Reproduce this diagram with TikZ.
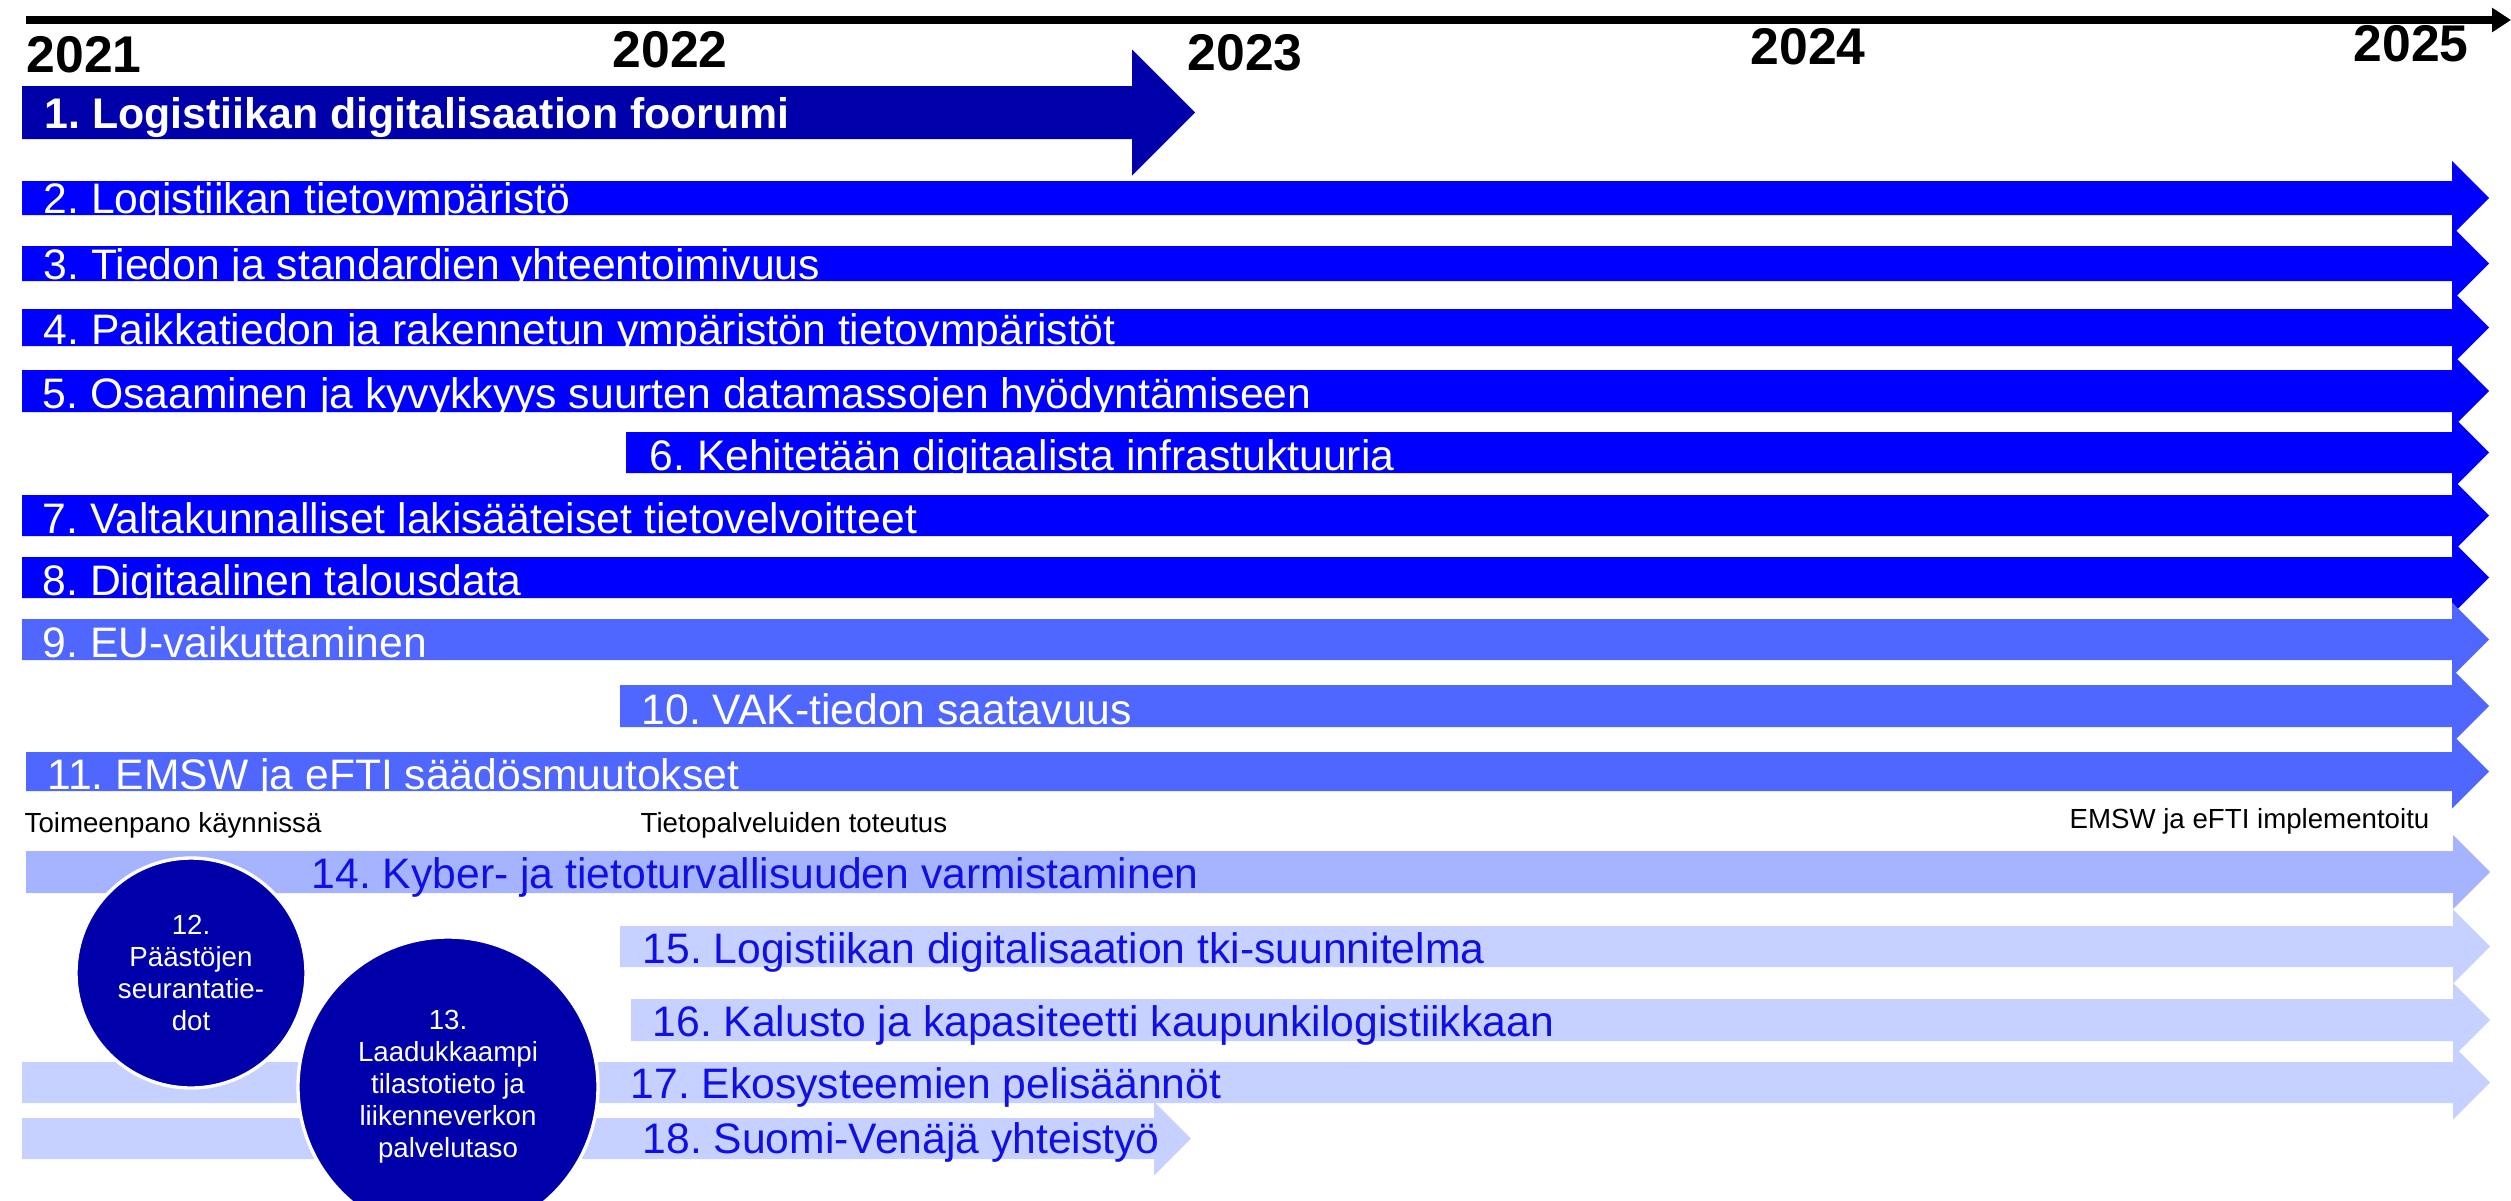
\documentclass[tikz,border=0pt]{standalone}
\usepackage{fontspec}
\setmainfont{Liberation Sans}
\usepackage{tikz}
\usetikzlibrary{shapes,arrows.meta,positioning}
\frenchspacing
\definecolor{navy}{RGB}{0, 0, 170}
\definecolor{pblue}{RGB}{0, 0, 255}
\definecolor{mblue}{RGB}{79, 102, 255}
\definecolor{lblue}{RGB}{166, 180, 255}
\definecolor{xblue}{RGB}{198, 209, 255}
\definecolor{tblue}{RGB}{16, 16, 230}
\tikzstyle{year} = [anchor=base west, inner sep=0pt, font=\bfseries\fontsize{15.5}{16}\selectfont]
\tikzstyle{btext} = [anchor=base west, inner sep=0pt, text=white, font=\fontsize{12.8}{14}\selectfont]
\tikzstyle{ltext} = [btext, text=tblue]
\tikzstyle{note} = [anchor=base west, inner sep=0pt, font=\fontsize{8.3}{9}\selectfont]
\tikzstyle{goal} = [circle, fill=navy, draw=white, line width=1pt, text=white, align=center, inner sep=0pt, font=\fontsize{8.3}{9.6}\selectfont]
\tikzstyle{tline} = [draw, line width=2.4pt, -{Triangle[length=5.7pt, width=7pt]}]
% bar with arrow head: [head half height]{colour}{x start}{x shaft end}{y top}{y bottom}
\newcommand{\timebar}[6][37]{%
  \fill[#2] (#3,#5) -- (#4,#5) -- (#4,{(#5+#6)/2-#1}) -- ({#4+#1},{(#5+#6)/2})
    -- (#4,{(#5+#6)/2+#1}) -- (#4,#6) -- (#3,#6) -- cycle;}

\begin{document}
\begin{tikzpicture}[x=0.3pt, y=-0.3pt]
\useasboundingbox (0,0) rectangle (2511,1200);

% timeline =============================

\coordinate (tl0) at (26,20);
\coordinate (tl1) at (2511,20);
\path[tline] (tl0) -- (tl1);

\node[year] (y2021) at (26,72) {2021};
\node[year] (y2022) at (612,67) {2022};
\node[year] (y2023) at (1187,70) {2023};
\node[year] (y2024) at (1750,64) {2024};
\node[year] (y2025) at (2353,61) {2025};

% bars =============================

\timebar[63]{navy}{22}{1132}{86}{139}
\timebar{pblue}{22}{2452}{181}{215}
\timebar{pblue}{22}{2452}{246}{281}
\timebar{pblue}{22}{2452}{309}{346}
\timebar{pblue}{22}{2452}{370}{412}
\timebar{pblue}{626}{2452}{432}{473}
\timebar{pblue}{22}{2452}{495}{536}
\timebar{pblue}{22}{2452}{557}{598}
\timebar{mblue}{22}{2452}{619}{660}
\timebar{mblue}{620}{2452}{685}{727}
\timebar{mblue}{26}{2452}{752}{791}
\timebar{lblue}{26}{2453}{851}{893}
\timebar{xblue}{620}{2453}{926}{967}
\timebar{xblue}{631}{2453}{999}{1041}
\timebar{xblue}{22}{2453}{1062}{1103}
\timebar{xblue}{22}{1154}{1118}{1159}

% nodes
\node[btext, font=\bfseries\fontsize{12.85}{14}\selectfont] (t1) at (44,128) {1. Logistiikan digitalisaation foorumi};
\node[btext] (t2) at (43,213) {2. Logistiikan tietoympäristö};
\node[btext] (t3) at (43,279) {3. Tiedon ja standardien yhteentoimivuus};
\node[btext] (t4) at (43,344) {4. Paikkatiedon ja rakennetun ympäristön tietoympäristöt};
\node[btext] (t5) at (42,408) {5. Osaaminen ja kyvykkyys suurten datamassojen hyödyntämiseen};
\node[btext] (t6) at (649,470) {6. Kehitetään digitaalista infrastuktuuria};
\node[btext] (t7) at (42,533) {7. Valtakunnalliset lakisääteiset tietovelvoitteet};
\node[btext] (t8) at (42,595) {8. Digitaalinen talousdata};
\node[btext] (t9) at (42,657) {9. EU-vaikuttaminen};
\node[btext] (t10) at (641,724) {10. VAK-tiedon saatavuus};
\node[btext] (t11) at (47,789) {11. EMSW ja eFTI säädösmuutokset};

\node[note] (n1) at (24,832) {Toimeenpano käynnissä};
\node[note] (n2) at (640,832) {Tietopalveluiden toteutus};
\node[note, anchor=base east] (n3) at (2430,828) {EMSW ja eFTI implementoitu};

\node[ltext] (t14) at (311,888) {14. Kyber- ja tietoturvallisuuden varmistaminen};
\node[ltext] (t15) at (642,963) {15. Logistiikan digitalisaation tki-suunnitelma};
\node[ltext] (t16) at (652,1036) {16. Kalusto ja kapasiteetti kaupunkilogistiikkaan};
\node[ltext] (t17) at (630,1098) {17. Ekosysteemien pelisäännöt};
\node[ltext] (t18) at (642,1153) {18. Suomi-Venäjä yhteistyö};

\node[goal, minimum size=69pt] (c12) at (191,973) {12.\\Päästöjen\\seurantatie-\\dot};
\node[goal, minimum size=90pt] (c13) at (448,1087) {13.\\Laadukkaampi\\tilastotieto ja\\liikenneverkon\\palvelutaso};

\end{tikzpicture}
\end{document}
